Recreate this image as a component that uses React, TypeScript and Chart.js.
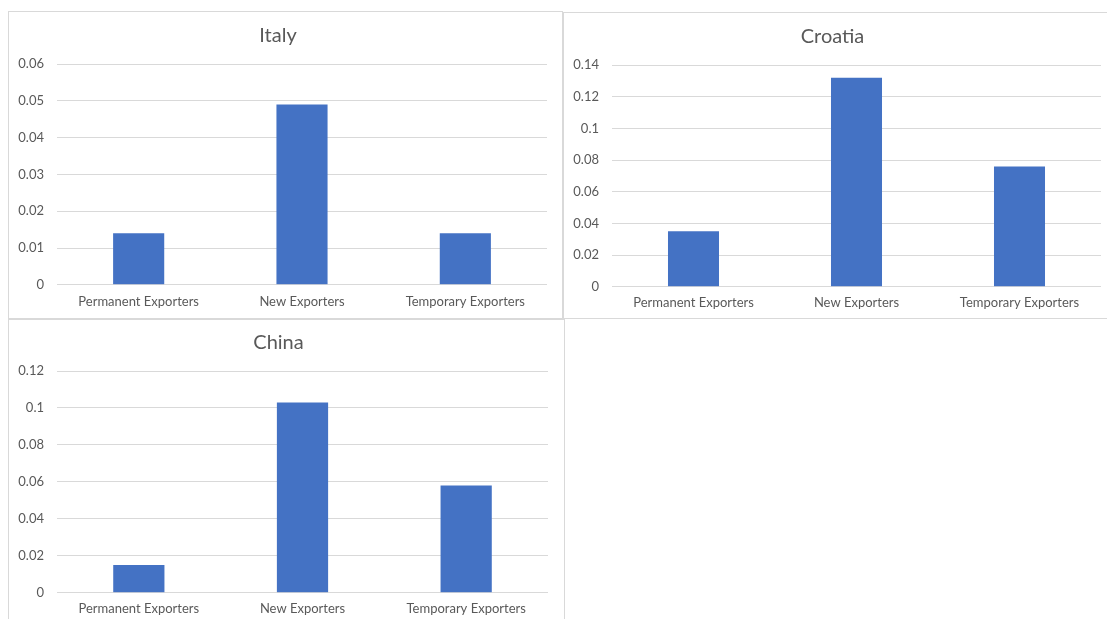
import React, { useEffect, useRef } from "react";
import { Chart, registerables } from "chart.js";

Chart.register(...registerables);

const categories = ["Permanent Exporters", "New Exporters", "Temporary Exporters"];
const italyValues = [0.014, 0.049, 0.014];
const croatiaValues = [0.035, 0.132, 0.076];
const chinaValues = [0.015, 0.103, 0.058];

const italyTicks = { max: 0.06, step: 0.01 };
const croatiaTicks = { max: 0.14, step: 0.02 };
const chinaTicks = { max: 0.12, step: 0.02 };

const FONT = "Lato, 'Open Sans', sans-serif";
const TEXT = "#595959";
const GRID = "#d9d9d9";
const BAR = "#4472C4";

type PanelProps = {
  title: string;
  values: number[];
  max: number;
  step: number;
  left: number;
  top: number;
  width: number;
  height: number;
  axisWidth: number;
  padRight: number;
  titleCenter: number;
  plotTop: number;
  bottomMargin: number;
  labelOffset: number;
};

function Panel(p: PanelProps) {
  const ref = useRef<HTMLCanvasElement | null>(null);
  useEffect(() => {
    if (!ref.current) return;
    const titleSize = 20;
    const titleH = titleSize * 1.2;
    const tickSize = 13;
    const tickH = tickSize * 1.2;
    const tickPad = p.labelOffset - tickH / 2;
    const chart = new Chart(ref.current, {
      type: "bar",
      data: {
        labels: categories,
        datasets: [
          {
            data: p.values,
            backgroundColor: BAR,
            borderWidth: 0,
            barPercentage: 0.313,
            categoryPercentage: 1,
          },
        ],
      },
      options: {
        animation: false,
        responsive: false,
        devicePixelRatio: 1,
        layout: {
          padding: {
            left: 0,
            right: p.padRight,
            top: 0,
            bottom: p.bottomMargin - (tickPad + tickH) - 10,
          },
        },
        plugins: {
          legend: { display: false },
          tooltip: { enabled: false },
          title: {
            display: true,
            text: p.title,
            color: TEXT,
            font: { family: FONT, size: titleSize, weight: "normal" as any, lineHeight: 1.2 },
            padding: {
              top: p.titleCenter - titleH / 2,
              bottom: p.plotTop - p.titleCenter - titleH / 2,
            },
          },
        },
        scales: {
          x: {
            grid: { display: false, drawTicks: false },
            border: { display: false },
            ticks: {
              color: TEXT,
              font: { family: FONT, size: tickSize, lineHeight: 1.2 },
              padding: tickPad,
              maxRotation: 0,
              autoSkip: false,
            },
          },
          y: {
            min: 0,
            max: p.max,
            grid: { color: GRID, lineWidth: 1, drawTicks: false },
            border: { display: false },
            ticks: {
              stepSize: p.step,
              color: TEXT,
              font: { family: FONT, size: tickSize, lineHeight: 1.2 },
              padding: 13,
              callback: (v: any) => String(+Number(v).toFixed(4)),
            },
            afterFit: (scale: any) => {
              scale.width = p.axisWidth;
            },
          },
        },
      },
    });
    return () => chart.destroy();
  }, []);
  const innerW = p.width - 2;
  const innerH = p.height - 2;
  return (
    <div
      style={{
        position: "absolute",
        left: p.left,
        top: p.top,
        width: p.width,
        height: p.height,
        border: `1px solid ${GRID}`,
        boxSizing: "border-box",
        background: "#fff",
      }}
    >
      <canvas ref={ref} width={innerW} height={innerH} style={{ display: "block", width: innerW, height: innerH }} />
    </div>
  );
}

export default function App() {
  return (
    <div
      style={{
        position: "fixed",
        left: 0,
        top: 0,
        width: 1107,
        height: 619,
        overflow: "hidden",
        background: "#fff",
      }}
    >
      <Panel
        title="Italy"
        values={italyValues}
        max={italyTicks.max}
        step={italyTicks.step}
        left={8}
        top={11}
        width={555}
        height={308}
        axisWidth={48}
        padRight={15}
        titleCenter={24}
        plotTop={52}
        bottomMargin={34}
        labelOffset={17}
      />
      <Panel
        title="Croatia"
        values={croatiaValues}
        max={croatiaTicks.max}
        step={croatiaTicks.step}
        left={563}
        top={12}
        width={550}
        height={307}
        axisWidth={48}
        padRight={11}
        titleCenter={24}
        plotTop={52}
        bottomMargin={33}
        labelOffset={16}
      />
      <Panel
        title="China"
        values={chinaValues}
        max={chinaTicks.max}
        step={chinaTicks.step}
        left={8}
        top={319}
        width={557}
        height={310}
        axisWidth={48}
        padRight={16}
        titleCenter={23}
        plotTop={51}
        bottomMargin={37}
        labelOffset={16}
      />
    </div>
  );
}
